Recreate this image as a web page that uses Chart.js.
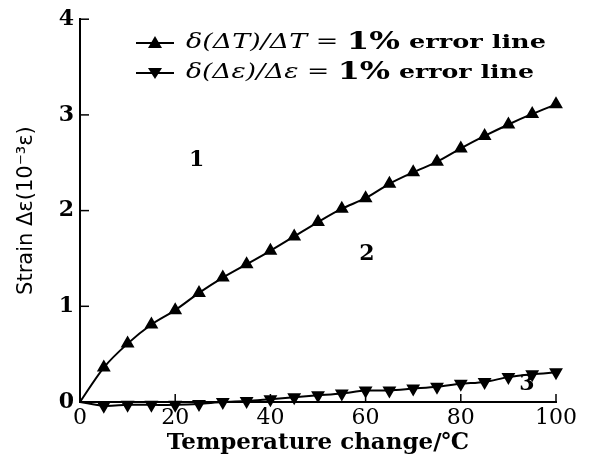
<!DOCTYPE html>
<html>
<head>
<meta charset="utf-8">
<script src="https://cdn.jsdelivr.net/npm/chart.js@4"></script>
<style>
  body { margin: 0; background: #fff; }
  #wrap { width: 594px; height: 465px; }
</style>
</head>
<body>
<div id="wrap"><canvas id="grafico" width="594" height="465"></canvas></div>
<script>
const temperatura = [0, 5, 10, 15, 20, 25, 30, 35, 40, 45, 50, 55, 60, 65, 70, 75, 80, 85, 90, 95, 100]
const erroT = [0, 0.36, 0.61, 0.81, 0.96, 1.14, 1.30, 1.44, 1.58, 1.73, 1.88, 2.02, 2.13, 2.28, 2.40, 2.51, 2.65, 2.78, 2.90, 3.01, 3.11]
const erroE = [0, -0.04, -0.03, -0.03, -0.03, -0.02, 0.0, 0.01, 0.03, 0.05, 0.07, 0.09, 0.12, 0.12, 0.14, 0.16, 0.19, 0.21, 0.26, 0.29, 0.31]
const legendas = ['δ(ΔT)/ΔT = 1% error line', 'δ(Δε)/Δε = 1% error line']
const yTicks = [0, 1, 2, 3, 4]
const xTicks = [0, 20, 40, 60, 80, 100]
const regioes = [
  { texto: '1', x: 24.5, y: 2.53 },
  { texto: '2', x: 60.3, y: 1.54 },
  { texto: '3', x: 93.9, y: 0.18 }
]

const serif = '"DejaVu Serif", "Liberation Serif", serif'

function pontos(ys) {
  return temperatura.map((t, i) => ({ x: t, y: ys[i] }))
}

// ticks drawn inward, region numbers and the legend
const extras = {
  id: 'extras',
  afterDatasetsDraw(chart) {
    const ctx = chart.ctx
    const xs = chart.scales.x
    const ys = chart.scales.y
    const a = chart.chartArea
    ctx.save()
    ctx.strokeStyle = '#000'
    ctx.lineWidth = 1.5
    xTicks.forEach((v) => {
      const px = xs.getPixelForValue(v)
      ctx.beginPath()
      ctx.moveTo(px, a.bottom)
      ctx.lineTo(px, a.bottom - 8)
      ctx.stroke()
    })
    yTicks.forEach((v) => {
      const py = ys.getPixelForValue(v)
      ctx.beginPath()
      ctx.moveTo(a.left, py)
      ctx.lineTo(a.left + 9, py)
      ctx.stroke()
    })

    ctx.fillStyle = '#000'
    ctx.font = 'bold 22px ' + serif
    ctx.textAlign = 'center'
    ctx.textBaseline = 'middle'
    regioes.forEach((r) => {
      ctx.fillText(r.texto, xs.getPixelForValue(r.x), ys.getPixelForValue(r.y))
    })

    // legend
    const linhas = [43, 73]
    const larguras = [360, 348]
    chart.data.datasets.forEach((ds, i) => {
      const y = linhas[i]
      ctx.lineWidth = 2
      ctx.beginPath()
      ctx.moveTo(136, y)
      ctx.lineTo(174, y)
      ctx.stroke()
      ctx.beginPath()
      if (i === 0) {
        ctx.moveTo(155, y - 7); ctx.lineTo(162, y + 5); ctx.lineTo(148, y + 5)
      } else {
        ctx.moveTo(155, y + 6); ctx.lineTo(162, y - 5); ctx.lineTo(148, y - 5)
      }
      ctx.closePath()
      ctx.fill()

      const partes = ds.label.split(' = ')
      const resto = partes[1].split(' ')
      const pedacos = [
        { t: partes[0], f: 'italic 20px ' + serif },
        { t: ' = ', f: '20px ' + serif },
        { t: resto[0], f: 'bold 24px ' + serif },
        { t: ' ' + resto.slice(1).join(' '), f: 'bold 19px ' + serif }
      ]
      let total = 0
      pedacos.forEach((p) => { ctx.font = p.f; total += ctx.measureText(p.t).width })
      const k = larguras[i] / total
      ctx.save()
      ctx.translate(186, y)
      ctx.scale(k, 1)
      let x = 0
      ctx.textAlign = 'left'
      pedacos.forEach((p) => {
        ctx.font = p.f
        ctx.fillText(p.t, x, 0)
        x += ctx.measureText(p.t).width
      })
      ctx.restore()
    })
    ctx.restore()
  }
}

const ctx = document.getElementById('grafico')

new Chart(ctx, {
  type: 'line',
  data: {
    datasets: [{
      label: legendas[0],
      data: pontos(erroT),
      borderColor: '#000',
      backgroundColor: '#000',
      borderWidth: 2,
      tension: 0.3,
      pointStyle: 'triangle',
      pointRadius: (c) => (c.dataIndex === 0 ? 0 : 6),
      clip: false
    }, {
      label: legendas[1],
      data: pontos(erroE),
      borderColor: '#000',
      backgroundColor: '#000',
      borderWidth: 2,
      tension: 0.3,
      pointStyle: 'triangle',
      rotation: 180,
      pointRadius: (c) => (c.dataIndex === 0 ? 0 : 6),
      clip: false
    }]
  },
  options: {
    responsive: false,
    animation: false,
    layout: { padding: { top: 16, right: 38, left: 0, bottom: 0 } },
    plugins: {
      legend: { display: false },
      tooltip: { enabled: false }
    },
    scales: {
      x: {
        type: 'linear',
        min: 0,
        max: 100,
        afterBuildTicks: (s) => { s.ticks = xTicks.map((v) => ({ value: v })) },
        afterFit: (s) => { s.height = 63 },
        grid: { display: false, drawTicks: false },
        border: { color: '#000', width: 2 },
        ticks: {
          color: '#000',
          padding: 3,
          maxRotation: 0,
          font: { family: serif, size: 22 }
        },
        title: {
          display: true,
          text: 'Temperature change/℃',
          color: '#000',
          padding: { top: 0, bottom: 8 },
          font: { family: serif, size: 23, weight: 'bold' }
        }
      },
      y: {
        min: 0,
        max: 4,
        afterBuildTicks: (s) => { s.ticks = yTicks.map((v) => ({ value: v })) },
        afterFit: (s) => { s.width = 80 },
        grid: { display: false, drawTicks: false },
        border: { color: '#000', width: 2 },
        ticks: {
          color: '#000',
          padding: 6,
          font: { family: serif, size: 22, weight: 'bold' }
        },
        title: {
          display: true,
          text: 'Strain Δε(10⁻³ε)',
          color: '#000',
          padding: { top: 14, bottom: 0 },
          font: { family: '"DejaVu Sans", "Liberation Sans", sans-serif', size: 21 }
        }
      }
    }
  },
  plugins: [extras]
})
</script>
</body>
</html>
